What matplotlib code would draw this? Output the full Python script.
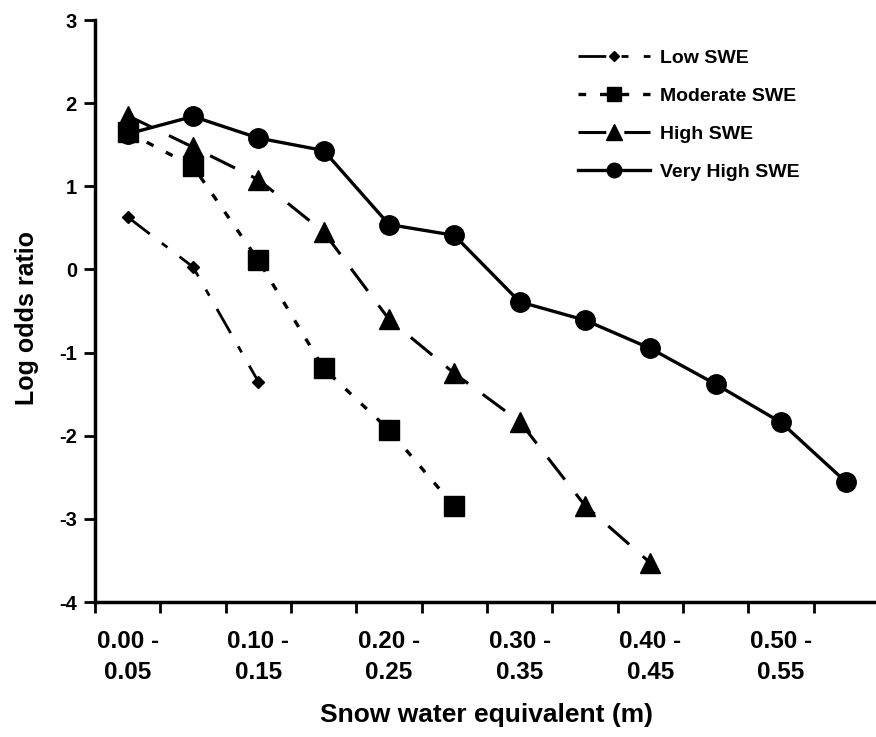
import numpy as np
import matplotlib
matplotlib.use("Agg")
import matplotlib.pyplot as plt

plt.rcParams['font.family'] = ['Liberation Sans', 'DejaVu Sans']
plt.rcParams['font.weight'] = 'bold'
plt.rcParams['axes.labelweight'] = 'bold'
plt.rcParams['axes.unicode_minus'] = False
plt.rcParams['lines.scale_dashes'] = False

# SWE classes (m)
categories = ['0.00 -\n0.05', '0.05 -\n0.10', '0.10 -\n0.15', '0.15 -\n0.20',
              '0.20 -\n0.25', '0.25 -\n0.30', '0.30 -\n0.35', '0.35 -\n0.40',
              '0.40 -\n0.45', '0.45 -\n0.50', '0.50 -\n0.55', '0.55 -\n0.60']

low_swe = [0.63, 0.03, -1.35]
moderate_swe = [1.65, 1.24, 0.11, -1.19, -1.93, -2.85]
high_swe = [1.85, 1.47, 1.08, 0.45, -0.60, -1.25, -1.83, -2.84, -3.53]
very_high_swe = [1.63, 1.84, 1.58, 1.43, 0.54, 0.41, -0.39, -0.61, -0.95, -1.38, -1.84, -2.56]

fig = plt.figure(figsize=(8.76, 7.37), dpi=100)
ax = fig.add_axes([95/876, 135/737, 784/876, 582/737])

x = np.arange(len(categories))

ax.plot(x[:len(very_high_swe)], very_high_swe, color='black', lw=2.4, ls='-',
        marker='o', ms=14, label='Very High SWE', zorder=3)
ax.plot(x[:len(high_swe)], high_swe, color='black', lw=2.2, dashes=(20, 13),
        marker='^', ms=15, label='High SWE', zorder=4)
ax.plot(x[:len(moderate_swe)], moderate_swe, color='black', lw=2.4, dashes=(5.5, 10),
        marker='s', ms=14, label='Moderate SWE', zorder=5)
ax.plot(x[:len(low_swe)], low_swe, color='black', lw=2.0, dashes=(20, 11, 5, 11),
        marker='D', ms=6.5, label='Low SWE', zorder=6)

ax.set_xlim(-0.5, len(categories) - 0.5)
ax.set_ylim(-4, 3)
ax.set_yticks(range(-4, 4))
ax.tick_params(axis='y', labelsize=14.5, width=2, length=8, pad=5)

# category boundaries as ticks, labels on every other category
ax.set_xticks(np.arange(-0.5, len(categories), 1.0))
ax.set_xticklabels([])
ax.set_xticks(x[::2], minor=True)
ax.set_xticklabels(categories[::2], minor=True, fontsize=17.5, linespacing=1.45)
ax.tick_params(axis='x', which='major', width=2, length=8)
ax.tick_params(axis='x', which='minor', length=0, pad=20)

for side in ['top', 'right']:
    ax.spines[side].set_visible(False)
for side in ['left', 'bottom']:
    ax.spines[side].set_linewidth(2.5)

ax.set_ylabel('Log odds ratio', fontsize=18)
ax.yaxis.set_label_coords(-0.072, 0.488)
ax.set_xlabel('Snow water equivalent (m)', fontsize=19, labelpad=14)

handles, labels = ax.get_legend_handles_labels()
leg = ax.legend(handles[::-1], labels[::-1], loc='upper left',
                bbox_to_anchor=(578/876, 1 - 49/737), bbox_transform=fig.transFigure,
                frameon=False, fontsize=14, borderpad=0, borderaxespad=0,
                handlelength=3.7, labelspacing=1.05, markerscale=0.75,
                handletextpad=0.5)

fig.savefig('out.png', dpi=100)
